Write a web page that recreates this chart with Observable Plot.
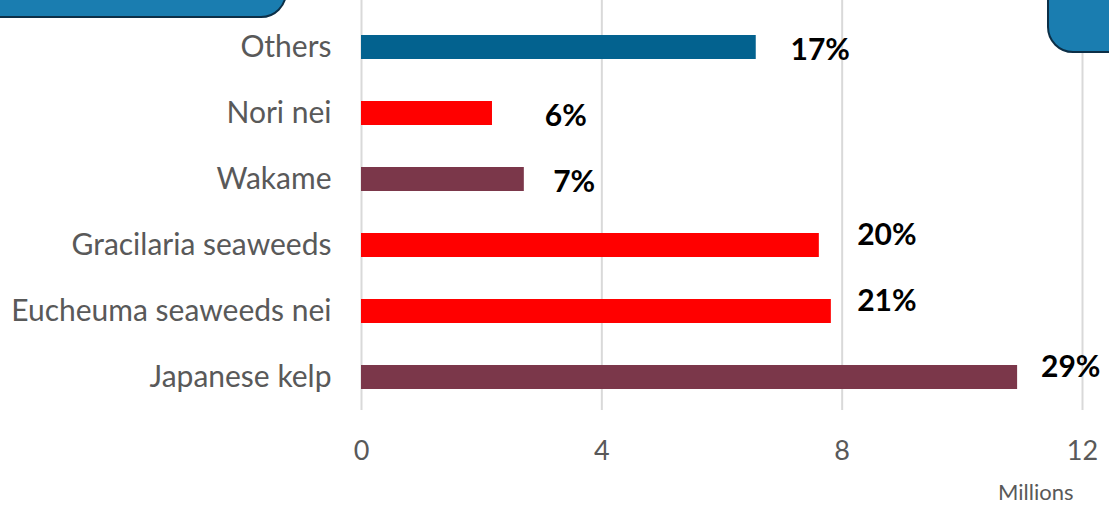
<!DOCTYPE html>
<html>
<head>
<meta charset="utf-8">
<script src="https://cdn.jsdelivr.net/npm/d3@7"></script>
<script src="https://cdn.jsdelivr.net/npm/@observablehq/plot@0.6"></script>
<style>
  html, body { margin: 0; padding: 0; background: #fff; }
  #wrap { position: relative; width: 1109px; height: 505px; overflow: hidden; font-family: Lato, "Open Sans", sans-serif; }
  .box { position: absolute; background: #1a7db0; border: 2px solid #0c2f47; box-sizing: border-box; }
  #boxL { left: -30px; top: -40px; width: 317px; height: 58px; border-radius: 0 0 26px 0; }
  #boxR { left: 1047px; top: -40px; width: 100px; height: 93px; border-radius: 0 0 0 26px; }
</style>
</head>
<body>
<div id="wrap">
  <div id="chart"></div>
  <div class="box" id="boxL"></div>
  <div class="box" id="boxR"></div>
</div>
<script>
const categories = ["Others", "Nori nei", "Wakame", "Gracilaria seaweeds", "Eucheuma seaweeds nei", "Japanese kelp"];
const production = [6.57, 2.18, 2.71, 7.62, 7.82, 10.92]; // millions
const shares = ["17%", "6%", "7%", "20%", "21%", "29%"];
const labelAt = [7.14, 3.05, 3.19, 8.25, 8.25, 11.31]; // label left edge, millions
const xTicks = [0, 4, 8, 12];
const palette = ["#03628f", "#ff0000", "#7b374a", "#ff0000", "#ff0000", "#7b374a"];

const rows = categories.map((c, i) => ({category: c, value: production[i], share: shares[i], at: labelAt[i], idx: i}));

const chart = Plot.plot({
  width: 1109,
  height: 505,
  marginTop: 0,
  marginBottom: 95,
  marginLeft: 361,
  marginRight: 27,
  style: {fontFamily: "Lato, 'Open Sans', sans-serif", background: "white"},
  x: {domain: [0, 12], ticks: xTicks},
  y: {domain: categories, insetTop: 13, paddingInner: 0.64, paddingOuter: 0.32},
  color: {domain: categories, range: palette},
  marks: [
    Plot.gridX(xTicks, {stroke: "#d9d9d9", strokeWidth: 2, strokeOpacity: 1}),
    Plot.barX(rows, {x: "value", y: "category", fill: "category"}),
    Plot.text(rows.filter(d => d.idx < 3), {x: "at", y: "category", text: "share", textAnchor: "start", dy: 3, fontSize: 30, fontWeight: "bold", fill: "black"}),
    Plot.text(rows.filter(d => d.idx >= 3), {x: "at", y: "category", text: "share", textAnchor: "start", dy: -10, fontSize: 30, fontWeight: "bold", fill: "black"}),
    Plot.axisY({tickSize: 0, tickPadding: 30, fontSize: 30, color: "#595959", label: null}),
    Plot.axisX({ticks: xTicks, tickSize: 0, tickPadding: 30, fontSize: 27, color: "#595959", label: null}),
    Plot.text(["Millions"], {frameAnchor: "bottom-right", textAnchor: "end", lineAnchor: "bottom", dx: -9, dy: 89, fontSize: 22, fill: "#595959"})
  ]
});
document.getElementById("chart").appendChild(chart);
</script>
</body>
</html>
